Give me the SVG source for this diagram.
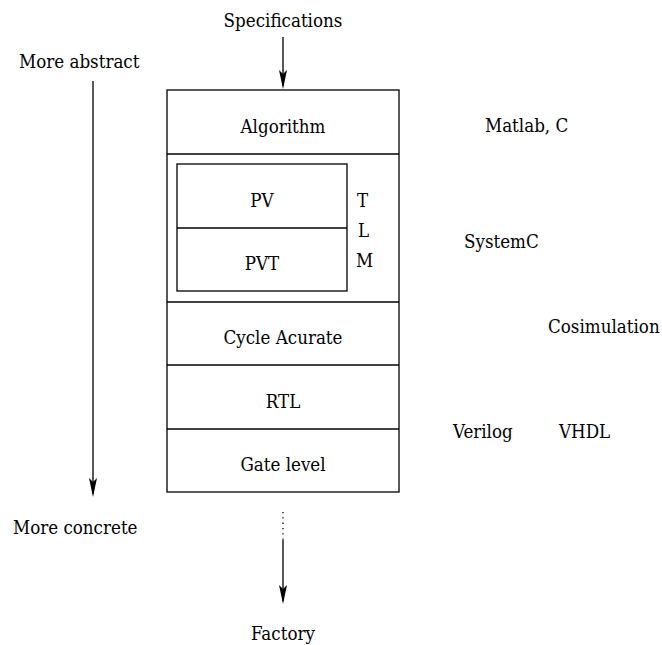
<svg xmlns="http://www.w3.org/2000/svg" width="662" height="645" viewBox="0 0 662 645">
<defs>
<style>
text{font-family:'DejaVu Serif Condensed','DejaVu Serif',serif;font-stretch:condensed;font-size:18.6px;fill:#000}
.c{text-anchor:middle}
.box{fill:none;stroke:#000;stroke-width:1.3}
.ln{stroke:#000;stroke-width:1.3;fill:none}
.head{fill:#000}
</style>
</defs>
<rect width="662" height="645" fill="#fff"/>
<g id="connectors">
<line class="ln" x1="283" y1="37" x2="283" y2="86"/>
<path class="head" d="M279,70 L283,74 L287,70 L283,89 Z"/>
<line class="ln" x1="93" y1="81" x2="93" y2="494"/>
<path class="head" d="M89,478 L93,482 L97,478 L93,497 Z"/>
<line class="ln" x1="283" y1="512" x2="283" y2="540" stroke-dasharray="1.3 4"/>
<line class="ln" x1="283" y1="540" x2="283" y2="601"/>
<path class="head" d="M279,585 L283,589 L287,585 L283,604 Z"/>
</g>
<g id="outer">
<rect class="box" x="167" y="90" width="232" height="402"/>
</g>
<g id="algorithm">
<line class="ln" x1="167" y1="154" x2="399" y2="154"/>
<text class="c" x="283" y="133">Algorithm</text>
</g>
<g id="tlm">
<rect class="box" x="177" y="164" width="170" height="127"/>
<line class="ln" x1="177" y1="228" x2="347" y2="228"/>
<text class="c" x="262" y="207">PV</text>
<text class="c" x="262" y="270">PVT</text>
<text x="357" y="207">T</text>
<text x="358" y="237">L</text>
<text x="356" y="267">M</text>
<line class="ln" x1="167" y1="302" x2="399" y2="302"/>
</g>
<g id="cycle">
<text class="c" x="283" y="344">Cycle Acurate</text>
<line class="ln" x1="167" y1="365" x2="399" y2="365"/>
</g>
<g id="rtl">
<text class="c" x="283" y="408">RTL</text>
<line class="ln" x1="167" y1="429" x2="399" y2="429"/>
</g>
<g id="gate">
<text class="c" x="283" y="471">Gate level</text>
</g>
<g id="labels">
<text class="c" x="283" y="27">Specifications</text>
<text x="19" y="68">More abstract</text>
<text x="13" y="534">More concrete</text>
<text class="c" x="283" y="640">Factory</text>
<text x="485" y="132">Matlab, C</text>
<text x="464" y="248">SystemC</text>
<text x="548" y="333">Cosimulation</text>
<text x="453" y="438">Verilog</text>
<text x="559" y="438">VHDL</text>
</g>
</svg>
